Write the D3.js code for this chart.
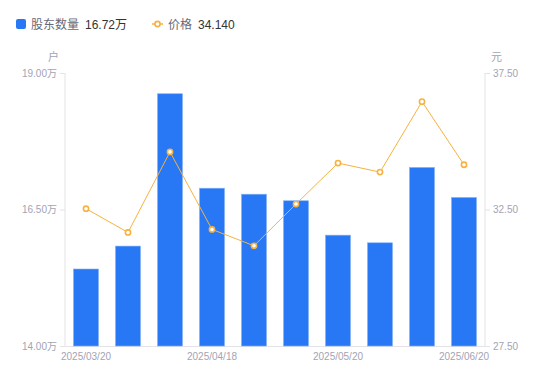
<!DOCTYPE html>
<html>
<head>
<meta charset="utf-8">
<script src="https://cdn.jsdelivr.net/npm/d3@7"></script>
<style>
  body { margin: 0; background: #fff; }
  text { font-family: "Liberation Sans", "Noto Sans CJK SC", sans-serif; }
</style>
</head>
<body>
<div id="chart"></div>
<script>
const dates = ['2025/03/20', '2025/03/31', '2025/04/10', '2025/04/18', '2025/04/30',
  '2025/05/09', '2025/05/20', '2025/05/30', '2025/06/10', '2025/06/20'];
const holders = [15.41, 15.83, 18.62, 16.89, 16.78, 16.66, 16.03, 15.89, 17.27, 16.72];
const prices = [32.53, 31.66, 34.61, 31.77, 31.17, 32.70, 34.20, 33.87, 36.45, 34.14];
const leftTicks = [14.00, 16.50, 19.00];
const rightTicks = [27.50, 32.50, 37.50];
const shownDates = ['2025/03/20', '2025/04/18', '2025/05/20', '2025/06/20'];

const W = 550, H = 381;
const margin = { top: 73, right: 65, bottom: 35, left: 65 };
const width = W - margin.left - margin.right;
const height = H - margin.top - margin.bottom;

const axisColor = '#e3e3e8';
const labelColor = '#a3a3b3';
const barColor = '#2878f5';
const lineColor = '#f7b240';
const font = '"Liberation Sans", "Noto Sans CJK SC", sans-serif';

const svg = d3.select('#chart').append('svg')
  .attr('width', W)
  .attr('height', H);

const g = svg.append('g')
  .attr('transform', `translate(${margin.left},${margin.top})`);

const x = d3.scaleBand().domain(dates).range([0, width]);
const yL = d3.scaleLinear().domain([14, 19]).range([height, 0]);
const yR = d3.scaleLinear().domain([27.5, 37.5]).range([height, 0]);

// left axis
const leftAxis = g.append('g')
  .call(d3.axisLeft(yL).tickValues(leftTicks).tickSize(5).tickPadding(3)
    .tickFormat(d => d.toFixed(2) + '万'));
leftAxis.select('.domain').attr('stroke', axisColor).attr('d', `M0,0V${height}`);
leftAxis.selectAll('.tick line').attr('stroke', axisColor);
leftAxis.selectAll('text').attr('fill', labelColor).style('font-size', '10px')
  .style('font-family', font);

// right axis
const rightAxis = g.append('g')
  .attr('transform', `translate(${width},0)`)
  .call(d3.axisRight(yR).tickValues(rightTicks).tickSize(5).tickPadding(3)
    .tickFormat(d => d.toFixed(2)));
rightAxis.select('.domain').attr('stroke', axisColor).attr('d', `M0,0V${height}`);
rightAxis.selectAll('.tick line').attr('stroke', axisColor);
rightAxis.selectAll('text').attr('fill', labelColor).style('font-size', '10px')
  .style('font-family', font);

// bottom axis
const bottomAxis = g.append('g')
  .attr('transform', `translate(0,${height})`)
  .call(d3.axisBottom(x).tickValues(shownDates).tickSize(0).tickPadding(7));
bottomAxis.select('.domain').attr('stroke', axisColor);
bottomAxis.selectAll('text').attr('fill', labelColor).style('font-size', '10px')
  .style('font-family', font);

// unit labels
g.append('text')
  .attr('x', -6).attr('y', -12)
  .attr('text-anchor', 'end')
  .attr('fill', labelColor)
  .style('font-size', '11px')
  .text('户');
g.append('text')
  .attr('x', width + 6).attr('y', -12)
  .attr('text-anchor', 'start')
  .attr('fill', labelColor)
  .style('font-size', '11px')
  .text('元');

// bars
const barW = 25;
g.selectAll('.bar')
  .data(dates)
  .enter()
  .append('rect')
  .attr('class', 'bar')
  .attr('x', (d, i) => x(d) + x.bandwidth() / 2 - barW / 2)
  .attr('y', (d, i) => yL(holders[i]))
  .attr('width', barW)
  .attr('height', (d, i) => height - yL(holders[i]))
  .attr('fill', barColor)
  .attr('stroke', '#7fb0fa')
  .attr('stroke-width', 0.6);

// price line
const line = d3.line()
  .x((d, i) => x(dates[i]) + x.bandwidth() / 2)
  .y(d => yR(d));

g.append('path')
  .datum(prices)
  .attr('d', line)
  .attr('fill', 'none')
  .attr('stroke', lineColor)
  .attr('stroke-width', 1);

g.selectAll('.pt')
  .data(prices)
  .enter()
  .append('circle')
  .attr('class', 'pt')
  .attr('cx', (d, i) => x(dates[i]) + x.bandwidth() / 2)
  .attr('cy', d => yR(d))
  .attr('r', 2.6)
  .attr('fill', '#fff')
  .attr('stroke', lineColor)
  .attr('stroke-width', 1.6);

// legend
const legend = svg.append('g');
legend.append('rect')
  .attr('x', 16).attr('y', 19)
  .attr('width', 10).attr('height', 10)
  .attr('rx', 2)
  .attr('fill', barColor);
legend.append('text')
  .attr('x', 31).attr('y', 28.5)
  .attr('fill', '#666a78')
  .style('font-size', '12px')
  .text('股东数量');
legend.append('text')
  .attr('x', 85).attr('y', 28.5)
  .attr('fill', '#333')
  .style('font-size', '12px')
  .text(holders[holders.length - 1].toFixed(2) + '万');

legend.append('line')
  .attr('x1', 152).attr('x2', 163)
  .attr('y1', 24).attr('y2', 24)
  .attr('stroke', lineColor)
  .attr('stroke-width', 1.5);
legend.append('circle')
  .attr('cx', 157.5).attr('cy', 24)
  .attr('r', 2.6)
  .attr('fill', '#fff')
  .attr('stroke', lineColor)
  .attr('stroke-width', 1.6);
legend.append('text')
  .attr('x', 168).attr('y', 28.5)
  .attr('fill', '#666a78')
  .style('font-size', '12px')
  .text('价格');
legend.append('text')
  .attr('x', 198).attr('y', 28.5)
  .attr('fill', '#333')
  .style('font-size', '12px')
  .text(prices[prices.length - 1].toFixed(3));
</script>
</body>
</html>
